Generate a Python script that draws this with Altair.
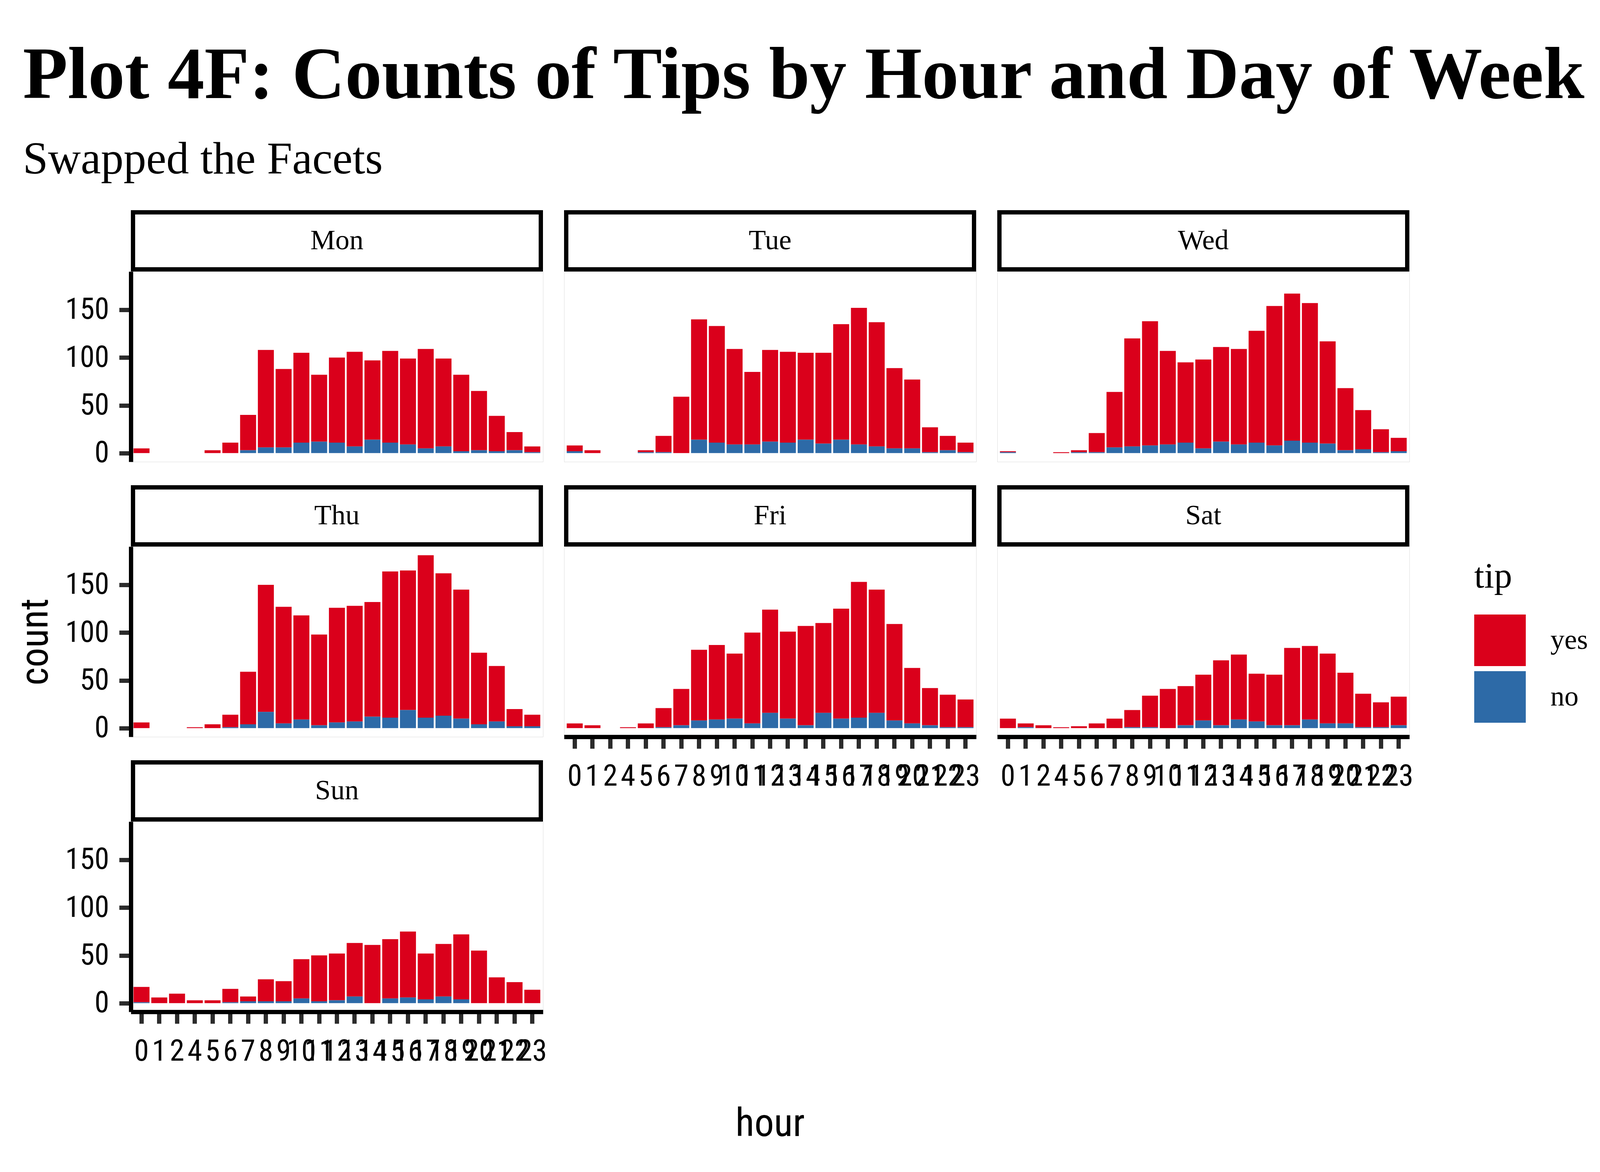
import altair as alt
import pandas as pd

# ---------------- data ----------------
hours = ["0", "1", "2", "4", "5", "6", "7", "8", "9", "10", "11", "12",
         "13", "14", "15", "16", "17", "18", "19", "20", "21", "22", "23"]
days = ["Mon", "Tue", "Wed", "Thu", "Fri", "Sat", "Sun"]
tips = ["yes", "no"]

mon_yes = [5, 0, 0, 0, 3, 11, 37, 102, 82, 94, 70, 89, 99, 83, 96, 90, 104, 92, 80, 62, 37, 19, 6]
mon_no = [0, 0, 0, 0, 0, 0, 3, 6, 6, 11, 12, 11, 7, 14, 11, 9, 5, 7, 2, 3, 2, 3, 1]
tue_yes = [6, 3, 0, 0, 2, 17, 59, 126, 122, 100, 76, 96, 95, 91, 95, 121, 143, 130, 84, 72, 26, 15, 10]
tue_no = [2, 0, 0, 0, 1, 1, 0, 14, 11, 9, 9, 12, 11, 14, 10, 14, 9, 7, 5, 5, 1, 3, 1]
wed_yes = [1, 0, 0, 1, 2, 20, 58, 113, 130, 98, 84, 93, 99, 100, 117, 146, 154, 146, 107, 65, 41, 24, 14]
wed_no = [1, 0, 0, 0, 1, 1, 6, 7, 8, 9, 11, 5, 12, 9, 11, 8, 13, 11, 10, 3, 4, 1, 2]
thu_yes = [6, 0, 0, 1, 4, 13, 55, 133, 122, 109, 95, 120, 121, 120, 153, 146, 170, 149, 135, 75, 58, 18, 12]
thu_no = [0, 0, 0, 0, 0, 1, 4, 17, 5, 9, 3, 6, 7, 12, 11, 19, 11, 13, 10, 4, 7, 2, 2]
fri_yes = [5, 3, 0, 1, 5, 20, 38, 74, 78, 68, 95, 108, 91, 104, 94, 115, 142, 129, 101, 58, 39, 34, 29]
fri_no = [0, 0, 0, 0, 0, 1, 3, 8, 9, 10, 5, 16, 10, 3, 16, 10, 11, 16, 8, 5, 3, 1, 1]
sat_yes = [10, 4, 3, 1, 2, 5, 10, 18, 33, 41, 41, 48, 68, 68, 50, 53, 81, 77, 73, 53, 35, 26, 30]
sat_no = [0, 1, 0, 0, 0, 0, 0, 1, 1, 0, 3, 8, 3, 9, 7, 3, 3, 9, 5, 5, 1, 1, 3]
sun_yes = [16, 6, 10, 3, 3, 14, 5, 23, 21, 41, 48, 49, 56, 61, 62, 69, 48, 55, 68, 55, 27, 22, 14]
sun_no = [1, 0, 0, 0, 0, 1, 2, 2, 2, 5, 2, 3, 7, 0, 5, 6, 4, 7, 4, 0, 0, 0, 0]

series = {
    "Mon": (mon_yes, mon_no), "Tue": (tue_yes, tue_no), "Wed": (wed_yes, wed_no),
    "Thu": (thu_yes, thu_no), "Fri": (fri_yes, fri_no), "Sat": (sat_yes, sat_no),
    "Sun": (sun_yes, sun_no),
}

rows = []
for d in days:
    yes, no = series[d]
    for h, a, b in zip(hours, yes, no):
        rows.append({"day": d, "hour": h, "tip": "yes", "n": a, "ord": 1})
        rows.append({"day": d, "hour": h, "tip": "no", "n": b, "ord": 0})
df = pd.DataFrame(rows)

# ---------------- styling ----------------
W, H = 1055, 487
RED, BLUE = "#DA001B", "#2D6AA7"
SERIF = "Liberation Serif"
AXF = '"Roboto Condensed", "Liberation Sans Narrow", Roboto, sans-serif'

legend = alt.Legend(
    title="tip", orient="none", legendX=3439, legendY=736,
    titleFont=SERIF, titleFontSize=92, titleFontWeight="normal", titleColor="black",
    titlePadding=50, labelFont=SERIF, labelFontSize=72, labelColor="black",
    symbolType="square", symbolSize=17424, symbolStrokeWidth=0, symbolOpacity=1,
    rowPadding=13, labelOffset=63, padding=0,
)

common_axis = dict(
    domainColor="black", domainWidth=11, tickColor="#2b2b2b", tickWidth=11,
    tickSize=30, labelFont=AXF, labelFontSize=76, labelColor="black", grid=False,
    titleFont=AXF, titleFontSize=100, titleFontWeight="normal", titleColor="black",
)


def panel(day, show_x, show_y):
    sub = df[df.day == day]
    if show_x:
        if day == "Sun":
            xaxis = alt.Axis(title="hour", titleX=1636, titleY=317, titleAlign="center",
                             titleBaseline="alphabetic", labelAngle=0, labelOverlap=False,
                             labelPadding=34, **common_axis)
        else:
            xaxis = alt.Axis(title=None, labelAngle=0, labelOverlap=False,
                             labelPadding=34, **common_axis)
    else:
        xaxis = None
    if show_y:
        if day == "Thu":
            yaxis = alt.Axis(title="count", values=[0, 50, 100, 150], titleAngle=270,
                             titleX=-214, titleY=H / 2, titleAlign="center",
                             titleBaseline="alphabetic", labelPadding=26, **common_axis)
        else:
            yaxis = alt.Axis(title=None, values=[0, 50, 100, 150], labelPadding=26,
                             **common_axis)
    else:
        yaxis = None

    bars = alt.Chart(sub).mark_bar().encode(
        x=alt.X("hour:O", sort=hours,
                scale=alt.Scale(domain=hours, paddingInner=0.1, paddingOuter=0.15),
                axis=xaxis),
        y=alt.Y("n:Q", stack="zero",
                scale=alt.Scale(domain=[-9.05, 190.05], nice=False, zero=False),
                axis=yaxis),
        color=alt.Color("tip:N", scale=alt.Scale(domain=tips, range=[RED, BLUE]),
                        legend=legend),
        order=alt.Order("ord:Q", sort="ascending"),
    )
    strip_df = pd.DataFrame({"day": [day]})
    box = alt.Chart(strip_df).mark_rect(fill="white", stroke="black", strokeWidth=11).encode(
        x=alt.value(5.5), x2=alt.value(W - 5.5), y=alt.value(-151.5), y2=alt.value(-5.5)
    )
    lab = alt.Chart(strip_df).mark_text(
        font=SERIF, fontSize=72, baseline="middle", align="center", color="black"
    ).encode(x=alt.value(W / 2), y=alt.value(-79), text="day:N")
    return alt.layer(bars, box, lab).properties(width=W, height=H)


cells = [
    panel("Mon", False, True),
    panel("Tue", False, False),
    panel("Wed", False, False),
    panel("Thu", False, True),
    panel("Fri", True, False),
    panel("Sat", True, False),
    panel("Sun", True, True),
]

chart = alt.concat(
    *cells, columns=3, spacing={"row": 217, "column": 54}, bounds="flush"
).resolve_scale(color="shared").properties(
    title=alt.TitleParams(
        text="Plot 4F: Counts of Tips by Hour and Day of Week",
        subtitle="Swapped the Facets",
        anchor="start", frame="bounds", dx=18,
        font=SERIF, fontSize=188, fontWeight="bold", color="black",
        subtitleFont=SERIF, subtitleFontSize=116, subtitleColor="black",
        subtitlePadding=62, offset=70,
    ),
    padding={"left": 32, "top": 92, "right": 20, "bottom": 20},
).configure_view(strokeWidth=0).configure(background="white")

chart.save("out.html", embed_options={"renderer": "svg", "actions": False})
